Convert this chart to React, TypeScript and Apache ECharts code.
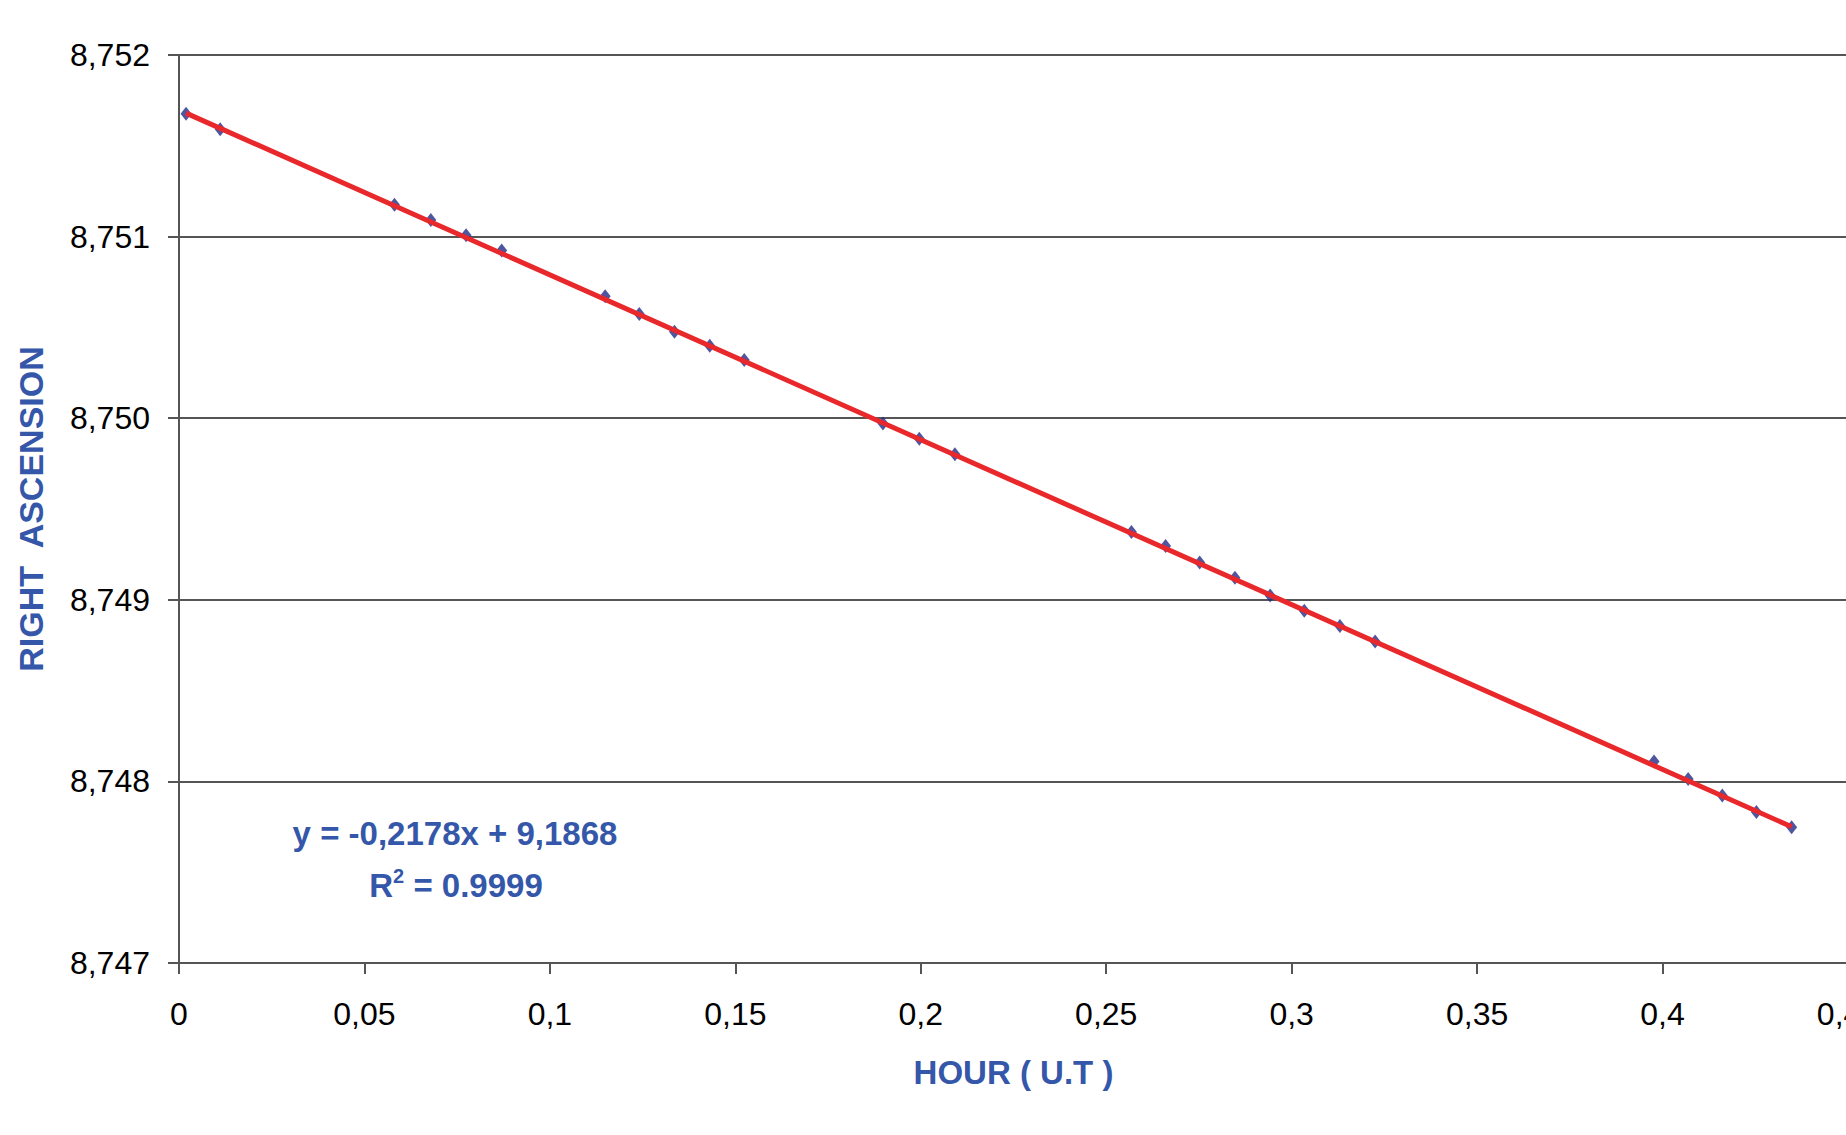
import React, { useEffect, useRef } from "react";
import * as echarts from "echarts";

const hours = [
  0.0019, 0.0111, 0.0581, 0.0679, 0.0774, 0.0870, 0.1149, 0.1241, 0.1336,
  0.1431, 0.1524, 0.1898, 0.1996, 0.2092, 0.2568, 0.2660, 0.2752, 0.2847,
  0.2942, 0.3034, 0.3130, 0.3225, 0.3977, 0.4069, 0.4161, 0.4253, 0.4348,
];
const rightAscension = [
  8.751676, 8.751591, 8.751176, 8.751092, 8.751008, 8.750923, 8.750671,
  8.750574, 8.750476, 8.750399, 8.75032, 8.749971, 8.749887, 8.749802,
  8.749374, 8.749296, 8.749205, 8.749121, 8.749024, 8.74894, 8.748856,
  8.748771, 8.74811, 8.748013, 8.747922, 8.747831, 8.747747,
];
const trendX = [0.0019, 0.4348];
const trendY = [8.75168, 8.74775];

const xTickLabels = ["0", "0,05", "0,1", "0,15", "0,2", "0,25", "0,3", "0,35", "0,4", "0,45"];
const yTickLabels = ["8,747", "8,748", "8,749", "8,750", "8,751", "8,752"];

const equationText = "y = -0,2178x + 9,1868";
const r2Value = " = 0.9999";

const BLUE = "#3457a9";
const FONT = "'Liberation Sans', Arial, sans-serif";

export default function App() {
  const ref = useRef<HTMLDivElement>(null);
  useEffect(() => {
    if (!ref.current) return;
    const chart = echarts.init(ref.current, null, { renderer: "svg" });
    const points = hours.map((h, i) => [h, rightAscension[i]]);
    const trend = trendX.map((x, i) => [x, trendY[i]]);
    chart.setOption({
      animation: false,
      backgroundColor: "#ffffff",
      textStyle: { fontFamily: FONT },
      grid: {
        left: 179,
        top: 55,
        width: 1669,
        height: 908,
        containLabel: false,
        outerBoundsMode: "none",
      },
      xAxis: {
        type: "value",
        min: 0,
        max: 0.45,
        interval: 0.05,
        name: "HOUR ( U.T )",
        nameLocation: "middle",
        nameGap: 93,
        nameTextStyle: { color: BLUE, fontSize: 33, fontWeight: "bold", fontFamily: FONT },
        axisLine: { show: true, lineStyle: { color: "#555555", width: 2 } },
        axisTick: { show: true, length: 11, lineStyle: { color: "#555555", width: 2 } },
        axisLabel: {
          color: "#000000",
          fontSize: 32,
          fontFamily: FONT,
          margin: 35,
          formatter: (_v: number, i: number) => xTickLabels[i] ?? "",
        },
        splitLine: { show: false },
      },
      yAxis: {
        type: "value",
        min: 8.747,
        max: 8.752,
        interval: 0.001,
        name: "RIGHT  ASCENSION",
        nameLocation: "middle",
        nameGap: 131,
        nameTextStyle: { color: BLUE, fontSize: 34, fontWeight: "bold", fontFamily: FONT },
        axisLine: { show: true, lineStyle: { color: "#555555", width: 2 } },
        axisTick: { show: true, length: 11, lineStyle: { color: "#555555", width: 2 } },
        axisLabel: {
          color: "#000000",
          fontSize: 32,
          fontFamily: FONT,
          margin: 29,
          formatter: (_v: number, i: number) => yTickLabels[i] ?? "",
        },
        splitLine: { show: true, lineStyle: { color: "#555555", width: 2 } },
      },
      series: [
        {
          type: "scatter",
          data: points,
          symbol: "diamond",
          symbolSize: [11, 14],
          itemStyle: { color: "#232c88" },
          z: 2,
        },
        {
          type: "line",
          data: trend,
          showSymbol: false,
          symbol: "none",
          lineStyle: { color: "#e8282b", width: 5 },
          z: 3,
        },
      ],
      graphic: [
        {
          type: "text",
          x: 455,
          y: 833,
          z: 10,
          style: {
            text: equationText,
            fill: BLUE,
            font: `bold 33px ${FONT}`,
            align: "center",
            verticalAlign: "middle",
          },
        },
        {
          type: "text",
          x: 456,
          y: 885,
          z: 10,
          style: {
            text: "{r|R}{s|2}{r|" + r2Value + "}",
            fill: BLUE,
            align: "center",
            verticalAlign: "middle",
            rich: {
              r: { fontSize: 33, fontWeight: "bold", fontFamily: FONT, fill: BLUE, lineHeight: 38 },
              s: { fontSize: 20, fontWeight: "bold", fontFamily: FONT, fill: BLUE, verticalAlign: "top", lineHeight: 38, padding: [0, 0, 15, 0] },
            },
          },
        },
      ],
    });
    return () => chart.dispose();
  }, []);
  return (
    <div
      ref={ref}
      style={{ position: "fixed", left: 0, top: 0, width: 1846, height: 1135, background: "#fff" }}
    />
  );
}
